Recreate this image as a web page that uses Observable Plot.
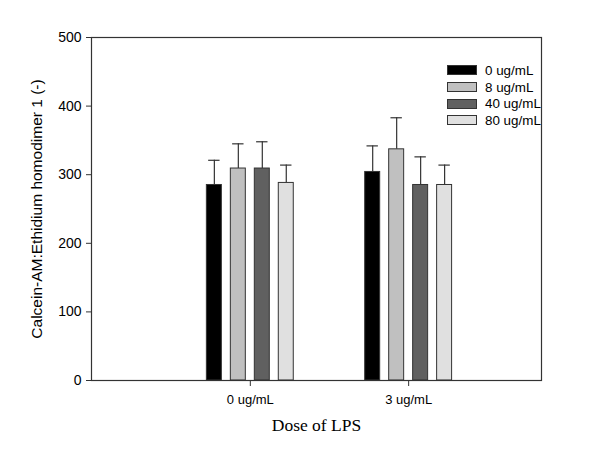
<!DOCTYPE html>
<html>
<head>
<meta charset="utf-8">
<script src="https://cdn.jsdelivr.net/npm/d3@7"></script>
<script src="https://cdn.jsdelivr.net/npm/@observablehq/plot@0.6"></script>
<style>
  html, body { margin: 0; padding: 0; background: #fff; }
  #wrap { position: relative; width: 600px; height: 449px; font-family: "Liberation Sans", Arial, sans-serif; }
  #legend { position: absolute; left: 447px; top: 62px; font-size: 13.4px; color: #000; }
  .row { display: flex; align-items: center; height: 16.7px; }
  .sw { width: 30px; height: 10px; border: 1px solid #333; margin-right: 8px; box-sizing: border-box; }
</style>
</head>
<body>
<div id="wrap"><div id="legend"></div></div>
<script>
const lpsGroups = ["0 ug/mL", "3 ug/mL"];
const doseSeries = ["0 ug/mL", "8 ug/mL", "40 ug/mL", "80 ug/mL"];
const meansLps0 = [285, 309, 309, 288];
const errsLps0 = [36, 36, 39, 26];
const meansLps3 = [304, 337, 285, 285];
const errsLps3 = [38, 46, 41, 29];
const yTicks = [0, 100, 200, 300, 400, 500];
const fills = ["#000000", "#c0c0c0", "#606060", "#e0e0e0"];

const means = [meansLps0, meansLps3];
const errs = [errsLps0, errsLps3];
const data = [];
lpsGroups.forEach((g, gi) => doseSeries.forEach((s, si) => {
  data.push({group: g, gi: gi + 1, series: s, si, mean: means[gi][si], err: errs[gi][si]});
}));

const step = 0.1514, half = 0.0473, cap = 0.036;
const cx = d => d.gi + (d.si - 1.5) * step;

const chart = Plot.plot({
  width: 600, height: 449,
  marginLeft: 91, marginRight: 59, marginTop: 37, marginBottom: 69,
  style: {fontFamily: "'Liberation Sans', Arial, sans-serif", fontSize: "13px", background: "white", color: "#000"},
  x: {type: "linear", domain: [-0.003, 2.839]},
  y: {domain: [0, 500]},
  color: {domain: doseSeries, range: fills},
  marks: [
    Plot.ruleX(data, {x: cx, y1: d => d.mean, y2: d => d.mean + d.err, stroke: "#333", strokeWidth: 1.2}),
    Plot.ruleY(data, {y: d => d.mean + d.err, x1: d => cx(d) - cap, x2: d => cx(d) + cap, stroke: "#333", strokeWidth: 1.2}),
    Plot.rectY(data, {x1: d => cx(d) - half, x2: d => cx(d) + half, y1: 0, y2: "mean", fill: "series", stroke: "#333", strokeWidth: 1}),
    Plot.axisY({ticks: yTicks, tickSize: 5, tickPadding: 5, label: "Calcein-AM:Ethidium homodimer 1 (-)", labelAnchor: "center", labelArrow: "none", labelOffset: 61, fontSize: 14, stroke: "#333"}),
    Plot.axisX({ticks: [1, 2], tickFormat: d => lpsGroups[d - 1], tickSize: 6, tickPadding: 8, label: null, stroke: "#333", fontSize: 13}),
    Plot.text(["Dose of LPS"], {frameAnchor: "bottom", dy: 50, text: d => d, fontFamily: "'Liberation Serif', 'Times New Roman', serif", fontSize: 17.5}),
    Plot.frame({stroke: "#333", strokeWidth: 1.2})
  ]
});
chart.querySelectorAll("g[aria-label='y-axis label'] text").forEach(t => t.setAttribute("font-size", "15.5"));
document.getElementById("wrap").prepend(chart);
chart.style.position = "absolute"; chart.style.left = "0"; chart.style.top = "0";

const leg = document.getElementById("legend");
doseSeries.forEach((s, i) => {
  const r = document.createElement("div"); r.className = "row";
  const sw = document.createElement("div"); sw.className = "sw"; sw.style.background = fills[i];
  const t = document.createElement("span"); t.textContent = s;
  r.append(sw, t); leg.append(r);
});
</script>
</body>
</html>
